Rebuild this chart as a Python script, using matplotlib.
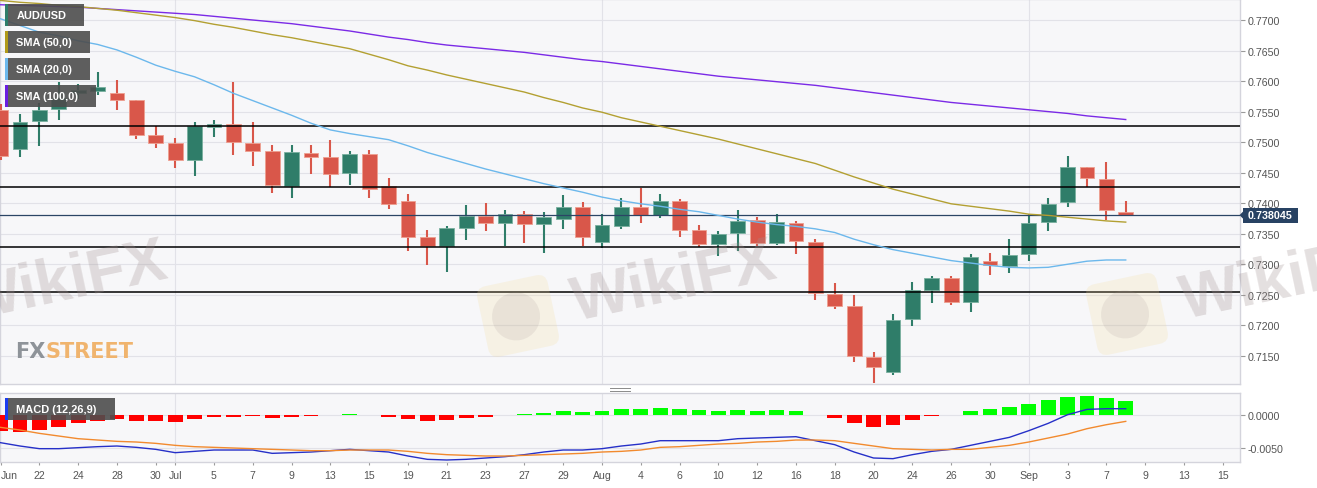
import numpy as np
import matplotlib
matplotlib.use('Agg')
import matplotlib.pyplot as plt
import matplotlib.transforms as mtransforms
from matplotlib.patches import Rectangle, FancyBboxPatch, Polygon, Circle
from matplotlib.lines import Line2D

# ---------------- data ----------------
opens = [0.7553, 0.7489, 0.7534, 0.7554, 0.7581, 0.7584, 0.7580, 0.7569, 0.7511, 0.7498,
         0.7470, 0.7524, 0.7529, 0.7499, 0.7486, 0.7428, 0.7482, 0.7475, 0.7449, 0.7481,
         0.7428, 0.7403, 0.7344, 0.7330, 0.7359, 0.7379, 0.7367, 0.7383, 0.7366, 0.7374,
         0.7394, 0.7336, 0.7362, 0.7393, 0.7380, 0.7403, 0.7356, 0.7333, 0.7351, 0.7373,
         0.7335, 0.7368, 0.7336, 0.7251, 0.7231, 0.7148, 0.7123, 0.7210, 0.7258, 0.7277,
         0.7238, 0.7306, 0.7297, 0.7317, 0.7369, 0.7402, 0.7460, 0.7440, 0.7385]
highs = [0.7562, 0.7546, 0.7564, 0.7599, 0.7595, 0.7615, 0.7602, 0.7569, 0.7527, 0.7506,
         0.7533, 0.7536, 0.7598, 0.7533, 0.7495, 0.7495, 0.7495, 0.7504, 0.7486, 0.7487,
         0.7442, 0.7415, 0.7356, 0.7363, 0.7397, 0.7400, 0.7389, 0.7387, 0.7385, 0.7413,
         0.7402, 0.7382, 0.7409, 0.7425, 0.7415, 0.7407, 0.7364, 0.7355, 0.7389, 0.7377,
         0.7382, 0.7371, 0.7341, 0.7269, 0.7250, 0.7156, 0.7219, 0.7271, 0.7281, 0.7281,
         0.7317, 0.7318, 0.7341, 0.7383, 0.7409, 0.7478, 0.7460, 0.7468, 0.7404]
lows = [0.7470, 0.7476, 0.7493, 0.7537, 0.7571, 0.7578, 0.7553, 0.7505, 0.7490, 0.7458,
        0.7445, 0.7508, 0.7479, 0.7461, 0.7416, 0.7409, 0.7447, 0.7427, 0.7430, 0.7409,
        0.7391, 0.7321, 0.7299, 0.7288, 0.7340, 0.7355, 0.7330, 0.7335, 0.7318, 0.7358,
        0.7330, 0.7327, 0.7357, 0.7368, 0.7375, 0.7345, 0.7328, 0.7314, 0.7322, 0.7330,
        0.7332, 0.7317, 0.7242, 0.7227, 0.7140, 0.7106, 0.7119, 0.7199, 0.7236, 0.7234,
        0.7221, 0.7283, 0.7286, 0.7306, 0.7355, 0.7393, 0.7426, 0.7373, 0.7380]
closes = [0.7477, 0.7533, 0.7553, 0.7572, 0.7585, 0.7590, 0.7569, 0.7511, 0.7498, 0.7470,
          0.7527, 0.7529, 0.7500, 0.7486, 0.7430, 0.7484, 0.7475, 0.7448, 0.7481, 0.7423,
          0.7399, 0.7345, 0.7330, 0.7359, 0.7379, 0.7367, 0.7383, 0.7366, 0.7377, 0.7394,
          0.7345, 0.7365, 0.7393, 0.7381, 0.7403, 0.7356, 0.7333, 0.7350, 0.7371, 0.7335,
          0.7369, 0.7338, 0.7253, 0.7232, 0.7149, 0.7131, 0.7209, 0.7258, 0.7277, 0.7239,
          0.7312, 0.7299, 0.7315, 0.7367, 0.7399, 0.7459, 0.7441, 0.7389, 0.738045]

sma20 = [0.7702, 0.7691, 0.7680, 0.7674, 0.7666, 0.7660, 0.7651, 0.7639, 0.7626, 0.7616,
         0.7607, 0.7594, 0.7580, 0.7568, 0.7556, 0.7544, 0.7531, 0.7520, 0.7514, 0.7509,
         0.7504, 0.7494, 0.7483, 0.7474, 0.7465, 0.7456, 0.7448, 0.7440, 0.7432, 0.7425,
         0.7418, 0.7410, 0.7404, 0.7399, 0.7395, 0.7390, 0.7386, 0.7380, 0.7374, 0.7369,
         0.7365, 0.7362, 0.7358, 0.7352, 0.7341, 0.7332, 0.7324, 0.7318, 0.7312, 0.7306,
         0.7302, 0.7298, 0.7295, 0.7294, 0.7295, 0.7300, 0.7305, 0.7307, 0.7307]
sma50 = [0.7732, 0.7729, 0.7727, 0.7724, 0.7722, 0.7719, 0.7716, 0.7712, 0.7708, 0.7704,
         0.7699, 0.7693, 0.7688, 0.7682, 0.7676, 0.7671, 0.7665, 0.7659, 0.7653, 0.7644,
         0.7635, 0.7625, 0.7618, 0.7610, 0.7603, 0.7596, 0.7589, 0.7582, 0.7573, 0.7565,
         0.7556, 0.7549, 0.7540, 0.7533, 0.7526, 0.7519, 0.7512, 0.7505, 0.7497, 0.7489,
         0.7481, 0.7473, 0.7465, 0.7454, 0.7443, 0.7433, 0.7423, 0.7415, 0.7407, 0.7399,
         0.7395, 0.7391, 0.7387, 0.7382, 0.7380, 0.7377, 0.7374, 0.7371, 0.7369]
sma100 = [0.7725, 0.7724, 0.7723, 0.7722, 0.7721, 0.7719, 0.7717, 0.7715, 0.7713, 0.7711,
          0.7709, 0.7706, 0.7703, 0.7700, 0.7697, 0.7694, 0.7690, 0.7686, 0.7682, 0.7677,
          0.7672, 0.7668, 0.7663, 0.7659, 0.7656, 0.7653, 0.7650, 0.7647, 0.7643, 0.7639,
          0.7635, 0.7632, 0.7628, 0.7624, 0.7620, 0.7616, 0.7612, 0.7608, 0.7605, 0.7602,
          0.7599, 0.7596, 0.7593, 0.7589, 0.7585, 0.7581, 0.7577, 0.7573, 0.7569, 0.7565,
          0.7562, 0.7559, 0.7556, 0.7553, 0.7550, 0.7547, 0.7543, 0.7540, 0.7537]

macd_line = [-0.0042, -0.0047, -0.0051, -0.0051, -0.00495, -0.0048, -0.0047, -0.0049, -0.0052, -0.0057,
             -0.0055, -0.0053, -0.0053, -0.0053, -0.0058, -0.0057, -0.0056, -0.0054, -0.0052, -0.0054,
             -0.0056, -0.0062, -0.0067, -0.0068, -0.0067, -0.0065, -0.0063, -0.0060, -0.0056, -0.0053,
             -0.0053, -0.0051, -0.0047, -0.0044, -0.0039, -0.0039, -0.0039, -0.0039, -0.0036, -0.0035,
             -0.0034, -0.0033, -0.0039, -0.0045, -0.0056, -0.0065, -0.0066, -0.0060, -0.0055, -0.0052,
             -0.0046, -0.0040, -0.0034, -0.0024, -0.0013, 0.0000, 0.0008, 0.0009, 0.0009]
signal_line = [-0.0019, -0.0023, -0.0028, -0.0032, -0.0036, -0.0038, -0.0040, -0.0041, -0.0043, -0.0046,
               -0.0048, -0.0049, -0.0050, -0.0051, -0.0052, -0.0053, -0.0054, -0.0054, -0.0053, -0.0053,
               -0.0053, -0.0055, -0.0058, -0.0060, -0.0061, -0.0062, -0.0062, -0.0061, -0.0060, -0.0059,
               -0.0058, -0.0056, -0.0055, -0.0053, -0.0049, -0.0048, -0.0046, -0.0044, -0.0043, -0.0041,
               -0.0040, -0.0038, -0.0038, -0.0039, -0.0043, -0.0047, -0.0051, -0.0052, -0.0053, -0.0052,
               -0.0052, -0.0049, -0.0046, -0.0041, -0.0035, -0.0029, -0.0021, -0.0015, -0.0010]
histogram = [-0.0024, -0.00255, -0.00225, -0.0018, -0.0013, -0.0009, -0.0007, -0.0009, -0.0010, -0.0011,
             -0.0006, -0.00035, -0.0003, -0.0002, -0.00055, -0.0003, -0.00015, -0.0001, 0.00005, -0.00005,
             -0.0003, -0.00065, -0.0009, -0.0008, -0.0005, -0.0003, 0.0, 0.0001, 0.00025, 0.00055,
             0.00045, 0.0005, 0.0008, 0.00085, 0.0010, 0.0009, 0.00065, 0.00055, 0.0007, 0.0005,
             0.00065, 0.0005, -0.00005, -0.00055, -0.0013, -0.0018, -0.0015, -0.00085, -0.0002, 0.0,
             0.0006, 0.0009, 0.0012, 0.00165, 0.00215, 0.0027, 0.0028, 0.00245, 0.0020]

levels = [0.7526, 0.7426, 0.7329, 0.7255]
last_price = 0.738045
price_ticks = [0.7150, 0.7200, 0.7250, 0.7300, 0.7350, 0.7400, 0.7450, 0.7500, 0.7550,
               0.7600, 0.7650, 0.7700]
macd_ticks = [0.0, -0.005]
xtick_pos = [0, 2, 4, 6, 8, 9, 11, 13, 15, 17, 19, 21, 23, 25, 27, 29, 31, 33, 35, 37,
             39, 41, 43, 45, 47, 49, 51, 53, 55, 57, 59, 61, 63]
xtick_lab = ['Jun', '22', '24', '28', '30', 'Jul', '5', '7', '9', '13', '15', '19', '21', '23',
             '27', '29', 'Aug', '4', '6', '10', '12', '16', '18', '20', '24', '26', '30', 'Sep',
             '3', '7', '9', '13', '15']
legend_items = ['AUD/USD', 'SMA (50,0)', 'SMA (20,0)', 'SMA (100,0)']

# ---------------- style ----------------
W, H = 1317, 489
plt.rcParams['font.family'] = ['Liberation Sans', 'DejaVu Sans']
UP, DN = '#2f7d69', '#d9574a'
UP_EDGE, DN_EDGE = '#79b09f', '#ee9f90'
C100, C50, C20 = '#7b2ae6', '#b3a032', '#6cb8ec'
BG = '#f7f7f9'
GRID = '#e2e2e8'
TXT = '#555555'
ID = mtransforms.IdentityTransform()

fig = plt.figure(figsize=(W / 100, H / 100), dpi=100, facecolor='white')
ax = fig.add_axes([0, 1 - 385 / H, 1240 / W, 385 / H])
axm = fig.add_axes([0, 1 - 463 / H, 1240 / W, 69 / H])

n = len(closes)
idx = np.arange(n)
for a in (ax, axm):
    a.set_facecolor(BG)
    for s in a.spines.values():
        s.set_color('#d4d4dc')
        s.set_linewidth(1.0)
    a.set_xlim(-0.03, 63.89)
    a.yaxis.tick_right()
ax.set_ylim(0.71039, 0.77344)
axm.set_ylim(-0.0071, 0.00326)

# grid
ax.set_yticks(price_ticks)
ax.set_yticklabels([f'{p:.4f}' for p in price_ticks])
ax.grid(axis='y', color=GRID, lw=0.8, zorder=0)
axm.set_yticks(macd_ticks)
axm.set_yticklabels([f'{p:.4f}' for p in macd_ticks])
axm.grid(axis='y', color=GRID, lw=0.8, zorder=0)
month_pos = [p for p, l in zip(xtick_pos, xtick_lab) if l.isalpha()]
for m in month_pos[1:]:
    ax.axvline(m, color=GRID, lw=0.8, zorder=0.5)
    axm.axvline(m, color=GRID, lw=0.8, zorder=0.5)

ax.tick_params(axis='y', length=3.6, width=0.8, color='#9a9a9a', pad=1.8,
               labelsize=7.7, labelcolor=TXT)
ax.tick_params(axis='x', bottom=False, labelbottom=False)
axm.tick_params(axis='y', length=3.6, width=0.8, color='#9a9a9a', pad=1.8,
                labelsize=7.7, labelcolor=TXT)
axm.set_xticks(xtick_pos)
axm.set_xticklabels(xtick_lab)
axm.tick_params(axis='x', length=2.2, width=0.8, color='#9a9a9a', pad=3.5,
                labelsize=7.6, labelcolor=TXT)
for lbl in axm.get_xticklabels():
    if lbl.get_text() == 'Jun':
        lbl.set_ha('left')

# candles
for i in range(n):
    o, h, l, c = opens[i], highs[i], lows[i], closes[i]
    up = c >= o
    col = UP if up else DN
    ec = UP_EDGE if up else DN_EDGE
    ax.vlines(i, l, h, color=col, lw=1.5, zorder=3)
    bot = min(o, c)
    hgt = max(abs(c - o), 0.00025)
    ax.add_patch(Rectangle((i - 0.38, bot), 0.76, hgt, facecolor=col, edgecolor=ec,
                           lw=0.6, zorder=4))

# levels
for lv in levels:
    ax.axhline(lv, color='black', lw=1.1, zorder=4.5)
ax.axhline(last_price, color='#2b4565', lw=0.9, zorder=4.6)

# SMAs
ax.plot(idx, sma100, color=C100, lw=1.0, zorder=5)
ax.plot(idx, sma50, color=C50, lw=1.0, zorder=5)
ax.plot(idx, sma20, color=C20, lw=1.0, zorder=5)

# MACD
hcols = ['#00ff00' if v >= 0 else '#ff0000' for v in histogram]
axm.bar(idx, histogram, width=0.76, color=hcols, zorder=3)
axm.plot(idx, macd_line, color='#2630c8', lw=1.0, zorder=4)
axm.plot(idx, signal_line, color='#f28a2e', lw=1.0, zorder=4)

# ---------------- decorations ----------------
def legend_box(x0, y0, x1, y1, strip, text):
    fig.add_artist(Rectangle((x0, H - y1), x1 - x0, y1 - y0, transform=ID,
                             facecolor='#4d4d4d', alpha=0.9, edgecolor='none', zorder=10))
    fig.add_artist(Rectangle((x0, H - y1), 3, y1 - y0, transform=ID,
                             facecolor=strip, edgecolor='none', zorder=11))
    fig.text(x0 + 11.5, H - (y0 + y1) / 2, text, transform=ID, color='white',
             fontsize=7.9, fontweight='bold', va='center', ha='left', zorder=12)

legend_geo = [(5, 5, 84, 27, UP), (5, 32, 90, 54, '#b09a1a'),
              (5, 59, 90, 81, C20), (5, 86, 96, 108, '#6a1ee0')]
for (x0, y0, x1, y1, sc), t in zip(legend_geo, legend_items):
    legend_box(x0, y0, x1, y1, sc, t)
legend_box(5, 399, 115, 421, '#1a3cf0', 'MACD (12,26,9)')

# current price label
yd = ax.transData.transform((0, last_price))[1]
fig.add_artist(Rectangle((1243, yd - 7.5), 55, 15, transform=ID, facecolor='#284263',
                         edgecolor='none', zorder=10))
fig.add_artist(Polygon([(1239.5, yd), (1243.5, yd + 4), (1243.5, yd - 4)], closed=True,
                       transform=ID, facecolor='#284263', edgecolor='none', zorder=10))
fig.text(1270.5, yd, f'{last_price:.6f}', transform=ID, color='white', fontsize=7.7,
         fontweight='bold', va='center', ha='center', zorder=12)

# panel separator handle
for yy in (389, 391.5):
    fig.add_artist(Line2D([610, 630], [H - yy, H - yy], transform=ID, color='#8a8a8a', lw=0.7))

# watermarks
for cx, cy in [(-91, 317), (518, 317), (1127, 315)]:
    rot = mtransforms.Affine2D().rotate_deg_around(cx, H - cy, 12)
    fig.add_artist(FancyBboxPatch((cx - 36, H - cy - 36), 72, 72,
                                  boxstyle='round,pad=0,rounding_size=10',
                                  transform=rot, facecolor='#f3dc9a', alpha=0.22,
                                  edgecolor='none', zorder=8))
    fig.add_artist(Circle((cx - 2, H - cy), 24, transform=rot, facecolor='#a09090',
                          alpha=0.15, edgecolor='none', zorder=8))
    fig.text(cx + 55, H - cy + 12, 'WikiFX', transform=ID, rotation=12,
             rotation_mode='anchor', ha='left', va='center', fontsize=45,
             fontweight='bold', color='#a09090', alpha=0.28, zorder=8)

# FXSTREET logo
t1 = fig.text(15, H - 352, 'FX', transform=ID, color='#8e9399', fontsize=15,
              fontweight='bold', family=['Liberation Sans Narrow', 'DejaVu Sans'],
              va='center', ha='left', zorder=9)
r = fig.canvas.get_renderer()
bb = t1.get_window_extent(renderer=r)
fig.text(bb.x1 + 0.5, H - 352, 'STREET', transform=ID, color='#f0b46e', fontsize=15,
         fontweight='bold', family=['Liberation Sans Narrow', 'DejaVu Sans'],
         va='center', ha='left', zorder=9)

fig.savefig('out.png', dpi=100, facecolor='white')
